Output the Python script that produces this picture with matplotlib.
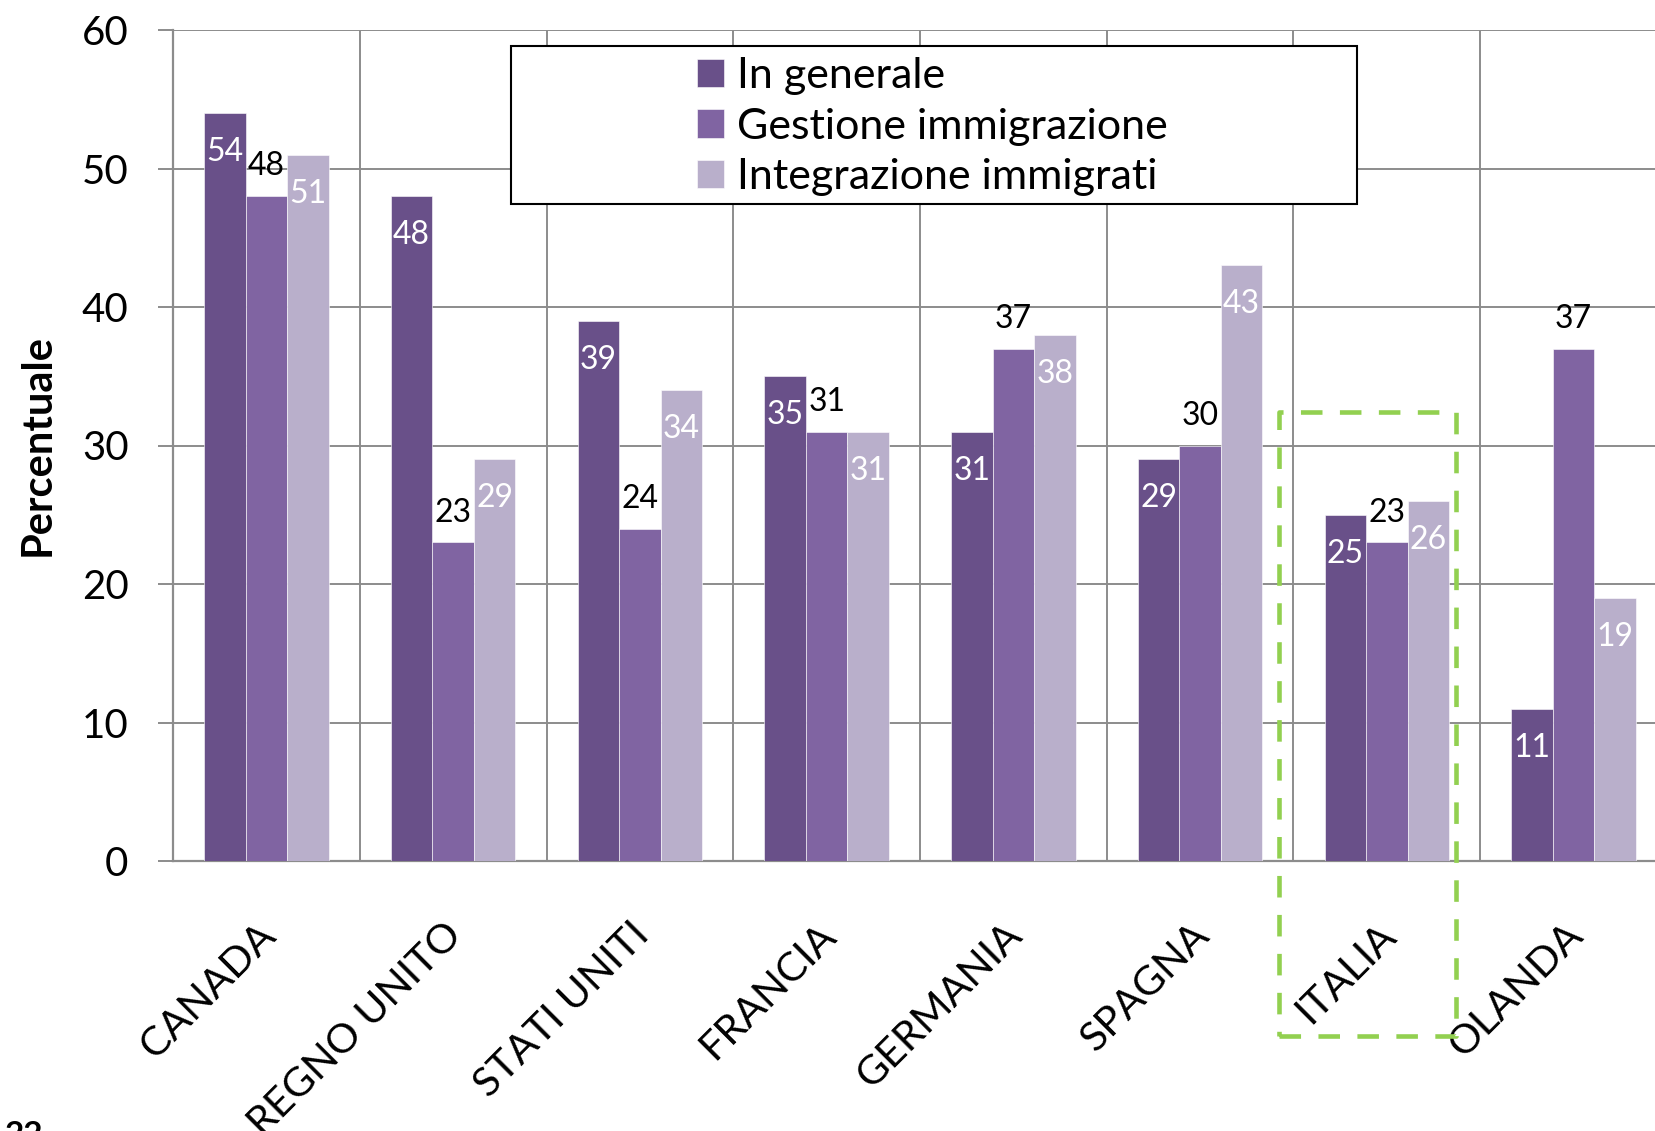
import numpy as np
import matplotlib
matplotlib.use("Agg")
import matplotlib.pyplot as plt
from matplotlib.patches import Rectangle

plt.rcParams["font.family"] = ["Lato", "DejaVu Sans"]

countries = ["CANADA", "REGNO UNITO", "STATI UNITI", "FRANCIA",
             "GERMANIA", "SPAGNA", "ITALIA", "OLANDA"]
in_generale = [54, 48, 39, 35, 31, 29, 25, 11]
gestione = [48, 23, 24, 31, 37, 30, 23, 37]
integrazione = [51, 29, 34, 31, 38, 43, 26, 19]
series_names = ["In generale", "Gestione immigrazione", "Integrazione immigrati"]
colors = ["#695089", "#8064a2", "#b9afcb"]
y_ticks = [0, 10, 20, 30, 40, 50, 60]
highlight = "ITALIA"

W, H = 1655, 1131
fig = plt.figure(figsize=(W / 100, H / 100), dpi=100, facecolor="white")
# axes runs a little past the right edge, like the original slide crop
ax = fig.add_axes([173 / W, 270 / H, 1494 / W, 831 / H])

grid_c = "#8c8c8c"
x = np.arange(len(countries))
bw = 0.222
handles = []
for k, (vals, name, c) in enumerate(zip([in_generale, gestione, integrazione],
                                         series_names, colors)):
    pos = x + (k - 1) * bw
    b = ax.bar(pos, vals, width=bw, color=c, edgecolor="white",
               linewidth=0.4, zorder=3, label=name)
    handles.append(b)
    for px, v in zip(pos, vals):
        if k == 1:  # middle series: black label above bar
            ax.annotate(str(v), (px, v), xytext=(0, 21.5), textcoords="offset points",
                        ha="center", va="center", fontsize=23, color="black", zorder=5)
        else:       # outer series: white label inside bar end
            ax.annotate(str(v), (px, v), xytext=(0, -28), textcoords="offset points",
                        ha="center", va="center", fontsize=23, color="white", zorder=5)

ax.set_xlim(-0.5, len(countries) - 0.5)
ax.set_ylim(0, 60)
ax.set_yticks(y_ticks)
ax.tick_params(axis="y", labelsize=29, length=11, width=1.4, color=grid_c, pad=21)
ax.set_xticks(x)
ax.set_xticklabels([])
ax.tick_params(axis="x", length=0)
ax.set_xticks(np.arange(-0.5, len(countries), 1), minor=True)
ax.tick_params(axis="x", which="minor", length=0)
ax.grid(axis="y", color=grid_c, linewidth=1.4, zorder=0)
ax.grid(axis="x", which="minor", color=grid_c, linewidth=1.4, zorder=0)
ax.set_axisbelow(True)
for s in ["top", "right"]:
    ax.spines[s].set_visible(False)
for s in ["left", "bottom"]:
    ax.spines[s].set_color(grid_c)
    ax.spines[s].set_linewidth(1.6)

for i, name in enumerate(countries):
    ax.annotate(name, (i, 0), xycoords=("data", "axes fraction"),
                xytext=(2, -49), textcoords="offset points",
                rotation=45, rotation_mode="anchor", ha="right", va="center",
                fontsize=29.5, color="black")

ax.set_ylabel("Percentuale", fontsize=30, fontweight="bold", labelpad=18)

# green dashed highlight box around ITALIA
hi = countries.index(highlight)
box = Rectangle((hi - 0.575, -12.6), 0.945, 45.0, fill=False,
                edgecolor="#92d050", linewidth=3.3, linestyle=(0, (4.7, 3.8)),
                joinstyle="round", clip_on=False, zorder=6)
ax.add_patch(box)

# legend with its own frame
frame = Rectangle((511 / W, 1 - 204 / H), (1357 - 511) / W, (204 - 46) / H,
                  transform=fig.transFigure, facecolor="white",
                  edgecolor="black", linewidth=1.5, zorder=2)
fig.add_artist(frame)
leg = fig.legend(handles=handles, labels=series_names, loc="upper left",
                 bbox_to_anchor=(667 / W, 1 - 27 / H), frameon=False,
                 fontsize=31, handlelength=0.63, handleheight=0.63,
                 handletextpad=0.3, labelspacing=0.29, borderpad=0.2)
leg.set_zorder(5)

fig.text(5 / W, 1 - 1121 / H, "22", fontsize=24, fontweight="bold", va="top")

fig.savefig("out.png", dpi=100, facecolor="white")
